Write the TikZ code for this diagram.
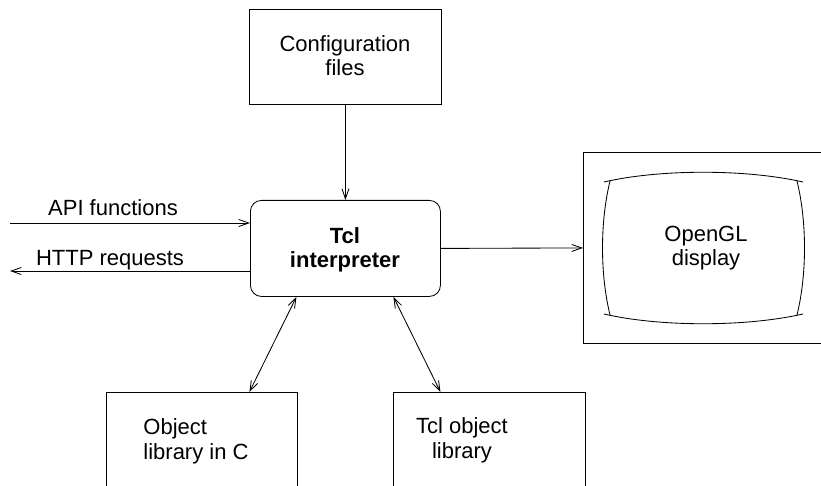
\documentclass[tikz,border=0pt]{standalone}
\usepackage{fontspec}
\setmainfont{Liberation Sans}
\usetikzlibrary{arrows.meta}
\begin{document}
\begin{tikzpicture}[x=1pt,y=-1pt,
  line width=0.85pt,
  box/.style={draw, rectangle, inner sep=0pt},
  lbl/.style={font=\fontsize{22}{24}\selectfont, inner sep=0pt},
  arr/.style={-{Straight Barb[length=10pt,width=7pt,line width=0.85pt]}},
  darr/.style={{Straight Barb[length=10pt,width=7pt,line width=0.85pt]}-{Straight Barb[length=10pt,width=7pt,line width=0.85pt]}}]
\useasboundingbox (0,0) rectangle (821,486);
\clip (0,0) rectangle (821,486);
% configuration files
\node[box, minimum width=192pt, minimum height=95pt, anchor=north west] (config) at (249,9) {};
\node[lbl, align=center] (configtxt) at (345,56) {Configuration\\files};
% Tcl interpreter
\node[box, rounded corners=11pt, minimum width=190pt, minimum height=96pt, anchor=north west] (tcl) at (250,200) {};
\node[lbl, align=center, font=\fontsize{22}{24}\selectfont\bfseries] (tcltxt) at (345,250) {Tcl\\interpreter};
% display (right edge lies outside the picture)
\node[box, minimum width=260pt, minimum height=191pt, anchor=north west] (display) at (583,152) {};
\draw (604,182) .. controls (660,169) and (746,169) .. (803,182);
\draw (604,314) .. controls (660,327) and (746,327) .. (803,314);
\draw (610,181) .. controls (600,222) and (600,274) .. (610,315);
\draw (797,181) .. controls (807,222) and (807,274) .. (797,315);
\node[lbl, align=center] (disptxt) at (706,248) {OpenGL\\display};
% bottom boxes
\node[box, minimum width=191pt, minimum height=150pt, anchor=north west] (objc) at (106,392) {};
\node[lbl, align=left, anchor=north west, font=\fontsize{22}{25}\selectfont] (objctxt) at (143,418) {Object\\library in C};
\node[box, minimum width=192pt, minimum height=150pt, anchor=north west] (tclobj) at (393,392) {};
\node[lbl, align=center, font=\fontsize{22}{25}\selectfont] (tclobjtxt) at (462,440) {Tcl object\\library};
% connectors
\draw[arr] (config.south) -- (tcl.north);
\coordinate (apiin) at (10,223);
\coordinate (httpout) at (10,271);
\draw[arr] (apiin) -- (apiin -| tcl.west);
\draw[arr] (httpout -| tcl.west) -- (httpout);
\node[lbl] (apilbl) at (113,208) {API functions};
\node[lbl] (httplbl) at (110,260) {HTTP requests};
\draw[arr] (tcl.east) -- (display.west);
\draw[darr] ([xshift=-49pt]tcl.south) -- ([xshift=47.5pt]objc.north);
\draw[darr] ([xshift=48pt]tcl.south) -- ([xshift=-49pt]tclobj.north);
\end{tikzpicture}
\end{document}
